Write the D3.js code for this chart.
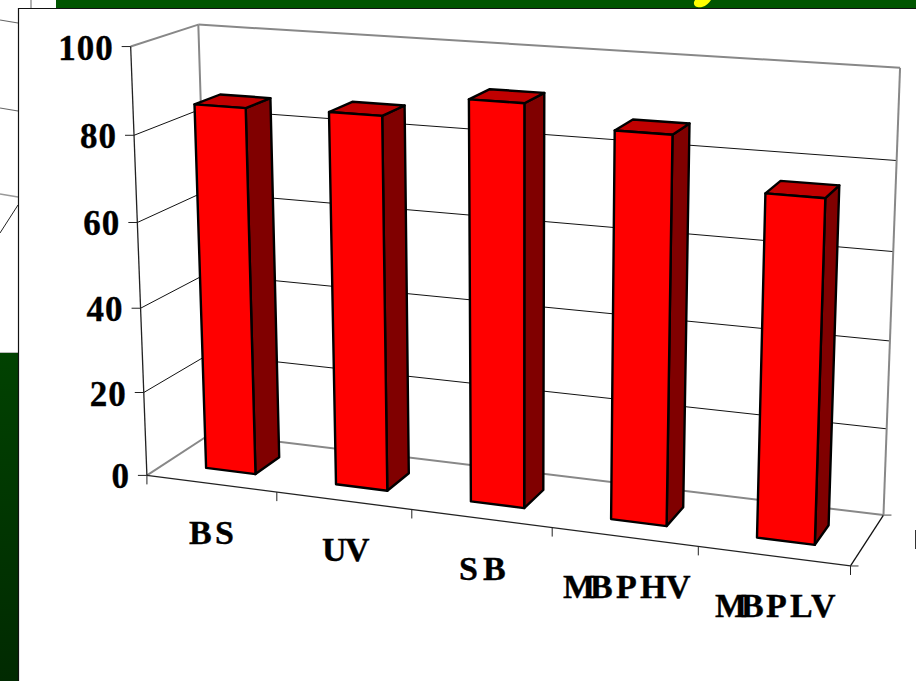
<!DOCTYPE html>
<html>
<head>
<meta charset="utf-8">
<script src="https://cdn.jsdelivr.net/npm/d3@7"></script>
<style>
html,body{margin:0;padding:0;background:#fff;overflow:hidden}
svg{display:block}
text{font-family:"Liberation Serif",serif;font-weight:bold;fill:#000;stroke:#000;stroke-width:.35px}
</style>
</head>
<body>
<svg id="chart" width="916" height="681">
  <defs>
    <linearGradient id="slideGreen" x1="0" y1="0" x2="0" y2="1">
      <stop offset="0" stop-color="#014201"></stop>
      <stop offset="1" stop-color="#012a01"></stop>
    </linearGradient>
  </defs>
</svg>
<script>
const categories = ["BS", "UV", "SB", "MBPHV", "MBPLV"];
const percentages = [86, 86.5, 91.5, 87, 76];
const tickValues = [0, 20, 40, 60, 80, 100];

// Box corners on screen: f = front, b = back, l/r = left/right, B/T = bottom/top.
const corners = {
  flB: [148, 475], frB: [850, 567], brB: [884, 514], blB: [210, 434],
  flT: [130, 46], blT: [199, 25], brT: [900, 68]
};

function solve(A, y) {
  const n = A.length, M = A.map((r, i) => [...r, y[i]]);
  for (let c = 0; c < n; c++) {
    let p = c;
    for (let r = c + 1; r < n; r++) if (Math.abs(M[r][c]) > Math.abs(M[p][c])) p = r;
    [M[c], M[p]] = [M[p], M[c]];
    for (let r = 0; r < n; r++) if (r !== c) {
      const f = M[r][c] / M[c][c];
      for (let k = c; k <= n; k++) M[r][k] -= f * M[c][k];
    }
  }
  return M.map((r, i) => r[n] / r[i]);
}

// Projective camera fitted to the corners by linear least squares (m34 = 1).
const camera = (() => {
  const pts = [
    [0,0,0,corners.flB],[1,0,0,corners.frB],[1,0,1,corners.brB],[0,0,1,corners.blB],
    [0,1,0,corners.flT],[0,1,1,corners.blT],[1,1,1,corners.brT]
  ];
  const rows = [], rhs = [];
  pts.forEach(([u,v,w,[x,y]]) => {
    rows.push([u,v,w,1,0,0,0,0,-x*u,-x*v,-x*w]); rhs.push(x);
    rows.push([0,0,0,0,u,v,w,1,-y*u,-y*v,-y*w]); rhs.push(y);
  });
  const n = 11;
  const AtA = d3.range(n).map(i => d3.range(n).map(j => d3.sum(rows, r => r[i]*r[j])));
  const Atb = d3.range(n).map(i => d3.sum(rows, (r,k) => r[i]*rhs[k]));
  return solve(AtA, Atb);
})();

function project(u, v, w) {
  const m = camera, d = m[8]*u + m[9]*v + m[10]*w + 1;
  return [(m[0]*u + m[1]*v + m[2]*w + m[3]) / d, (m[4]*u + m[5]*v + m[6]*w + m[7]) / d];
}

const heightScale = d3.scaleLinear().domain([0, 100]).range([0, 1]);
const categoryScale = d3.scaleBand().domain(categories).range([0, 1]);
const barFraction = 0.385, barOffset = 0.315;
const depthFront = 0.29, depthBack = 0.68;

const svg = d3.select("#chart");
const poly = pts => pts.map(p => p.map(c => c.toFixed(1)).join(",")).join(" ");
const seg = (g, a, b, color, width) => g.append("line")
  .attr("x1", a[0]).attr("y1", a[1]).attr("x2", b[0]).attr("y2", b[1])
  .attr("stroke", color).attr("stroke-width", width);

// Slide behind the chart panel.
const backdrop = svg.append("g");
backdrop.append("rect").attr("x", 56).attr("y", 0).attr("width", 860).attr("height", 8).attr("fill", "#005500");
backdrop.append("path").attr("d", "M694 2 C693 7 699 8 702 7 C706 6 709 3 711 0 L695 0 Z").attr("fill", "#ffff00");
backdrop.append("rect").attr("x", 0).attr("y", 353).attr("width", 18).attr("height", 328).attr("fill", "url(#slideGreen)");
seg(backdrop, [31, 0], [31, 8], "#999", 1.5);
seg(backdrop, [0, 20], [18, 23], "#666", 1.2);
seg(backdrop, [0, 108], [18, 111], "#666", 1.2);
seg(backdrop, [0, 194], [18, 197], "#999", 1.5);
seg(backdrop, [0, 233], [18, 205], "#222", 1);
seg(backdrop, [0, 352.5], [18, 352.5], "#bbb", 1);

// Chart panel.
svg.append("path").attr("d", "M18.5 681V8.5H916").attr("fill", "#fff").attr("stroke", "#111").attr("stroke-width", 1.2);

const walls = svg.append("g");
// Gridlines over the left and back walls.
const gridValues = tickValues.filter(t => t > 0 && t < 100);
gridValues.forEach(t => {
  const v = heightScale(t);
  seg(walls, project(0, v, 0), project(0, v, 1), "#111", 1);
  seg(walls, project(0, v, 1), project(1, v, 1), "#111", 1);
});
// Grey wall outlines.
seg(walls, project(0, 1, 0), project(0, 1, 1), "#888", 2);
seg(walls, project(0, 1, 1), project(1, 1, 1), "#888", 2);
seg(walls, project(0, 0, 1), project(0, 1, 1), "#888", 2);
seg(walls, project(1, 0, 1), project(1, 1, 1), "#888", 2);
seg(walls, project(0, 0, 0), project(0, 0, 1), "#888", 2);
seg(walls, project(0, 0, 1), project(1, 0, 1), "#888", 2);
// Axes in front.
seg(walls, project(0, 0, 0), project(0, 1, 0), "#222", 1.3);
seg(walls, project(0, 0, 0), project(1, 0, 0), "#222", 1.3);
seg(walls, project(1, 0, 0), project(1, 0, 1), "#111", 1.3);

// Value axis ticks and labels.
tickValues.forEach(t => {
  const p = project(0, heightScale(t), 0);
  seg(walls, [p[0] - 9, p[1]], p, "#222", 1);
  walls.append("text").attr("x", p[0] - 17).attr("y", p[1] + 13)
    .attr("text-anchor", "end").attr("font-size", 35).attr("letter-spacing", 1).text(t);
});

// Category and depth axis ticks.
d3.range(categories.length + 1).forEach(i => {
  const p = project(i / categories.length, 0, 0);
  seg(walls, p, [p[0], p[1] + 9], "#222", 1);
});
const endFront = project(1, 0, 0), endBack = project(1, 0, 1);
seg(walls, endFront, [endFront[0] + 8, endFront[1]], "#333", 1);
seg(walls, endBack, [endBack[0] + 8, endBack[1]], "#888", 1.5);

// Bars.
const bars = svg.append("g").attr("stroke", "#000").attr("stroke-width", 2.4).attr("stroke-linejoin", "round");
categories.forEach((c, i) => {
  const step = categoryScale.step();
  const u0 = categoryScale(c) + step * barOffset, u1 = u0 + step * barFraction, v = heightScale(percentages[i]);
  bars.append("polygon").attr("fill", "#800000")
    .attr("points", poly([project(u1,0,depthFront), project(u1,0,depthBack), project(u1,v,depthBack), project(u1,v,depthFront)]));
  bars.append("polygon").attr("fill", "#c00000")
    .attr("points", poly([project(u0,v,depthFront), project(u1,v,depthFront), project(u1,v,depthBack), project(u0,v,depthBack)]));
  bars.append("polygon").attr("fill", "#ff0000")
    .attr("points", poly([project(u0,0,depthFront), project(u1,0,depthFront), project(u1,v,depthFront), project(u0,v,depthFront)]));
});

// Category labels, each glyph placed on its own pen position.
const labelPens = [[189, 215], [322, 345], [459, 483], [563, 590, 616, 640, 666], [715, 741, 766, 790, 811]];
const labelBaselines = [544, 561, 580, 598, 617];
categories.forEach((c, i) => {
  svg.append("text").attr("x", labelPens[i].join(" ")).attr("y", labelBaselines[i])
    .attr("font-size", 34).text(c);
});

// Clipped glyph edge at the right of the panel.
seg(svg, [915.5, 530], [915.5, 549], "#333", 1);
</script>
</body>
</html>
